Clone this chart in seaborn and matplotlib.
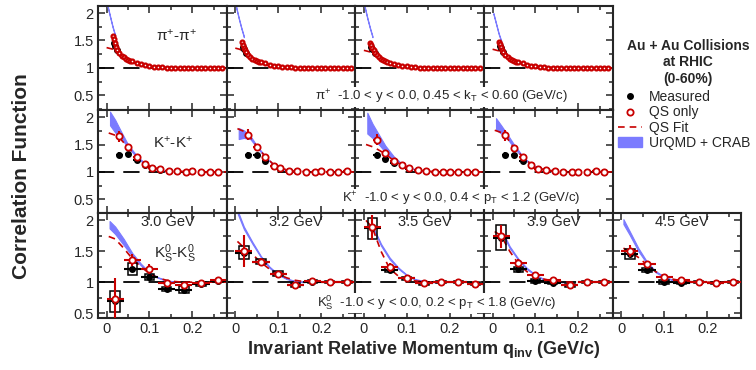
import matplotlib
matplotlib.use("Agg")
import matplotlib.pyplot as plt
from matplotlib.lines import Line2D
from matplotlib.patches import Patch, Rectangle
from matplotlib.ticker import MultipleLocator, FuncFormatter
import seaborn as sns

sns.set_style("ticks")
plt.rcParams["font.family"] = ["Liberation Sans", "DejaVu Sans"]
plt.rcParams["mathtext.fontset"] = "custom"
plt.rcParams["mathtext.rm"] = "Liberation Sans"
plt.rcParams["mathtext.it"] = "Liberation Sans:italic"
plt.rcParams["mathtext.bf"] = "Liberation Sans:bold"
plt.rcParams["mathtext.default"] = "rm"

RED = "#c80000"
BLUE = "#7b7bff"

energies = ["3.0 GeV", "3.2 GeV", "3.5 GeV", "3.9 GeV", "4.5 GeV"]

# ---- pi+ pi+ (fila 1) ----
pi_q = [0.015, 0.0175, 0.02, 0.0225, 0.025, 0.03, 0.035, 0.04, 0.045, 0.05, 0.055,
        0.06, 0.07, 0.08, 0.09, 0.10, 0.11, 0.12, 0.13, 0.14, 0.15, 0.16, 0.17,
        0.18, 0.19, 0.20, 0.21, 0.22, 0.23, 0.24, 0.25, 0.26, 0.27]
pi_qs = [
    [1.58, 1.52, 1.45, 1.38, 1.33, 1.27, 1.22, 1.19, 1.17, 1.15, 1.13, 1.12, 1.09, 1.07, 1.05, 1.03,
     1.02, 1.01, 1.01, 1.0, 1.0, 1.0, 1.0, 1.0, 1.0, 1.0, 1.0, 1.0, 1.0, 1.0, 1.0, 1.0, 1.0],
    [1.47, 1.42, 1.37, 1.33, 1.29, 1.24, 1.20, 1.17, 1.15, 1.13, 1.11, 1.10, 1.08, 1.06, 1.04, 1.03,
     1.02, 1.01, 1.01, 1.0, 1.0, 1.0, 1.0, 1.0, 1.0, 1.0, 1.0, 1.0, 1.0, 1.0, 1.0, 1.0, 1.0],
    [1.46, 1.42, 1.37, 1.32, 1.28, 1.23, 1.19, 1.16, 1.14, 1.12, 1.10, 1.09, 1.07, 1.05, 1.04, 1.03,
     1.02, 1.01, 1.0, 1.0, 1.0, 1.0, 1.0, 1.0, 1.0, 1.0, 1.0, 1.0, 1.0, 1.0, 1.0, 1.0, 1.0],
    [1.48, 1.43, 1.38, 1.33, 1.29, 1.24, 1.20, 1.17, 1.15, 1.13, 1.11, 1.10, 1.08, 1.06, 1.04, 1.03,
     1.02, 1.01, 1.0, 1.0, 1.0, 1.0, 1.0, 1.0, 1.0, 1.0, 1.0, 1.0, 1.0, 1.0, 1.0, 1.0, 1.0],
]
pi_meas_q = [0.0175, 0.02, 0.025]
pi_meas = [[1.45, 1.40, 1.32], [1.38, 1.35, 1.28], [1.38, 1.35, 1.28], [1.40, 1.36, 1.29]]
pi_meas_err = [0.08, 0.06, 0.04]
pi_fit_q = [0.0, 0.005, 0.01, 0.015, 0.02, 0.03, 0.04, 0.06, 0.08, 0.10, 0.15, 0.20, 0.28]
pi_fit = [
    [1.37, 1.36, 1.35, 1.34, 1.32, 1.26, 1.20, 1.12, 1.07, 1.03, 1.0, 1.0, 1.0],
    [1.36, 1.35, 1.34, 1.32, 1.30, 1.24, 1.19, 1.11, 1.06, 1.03, 1.0, 1.0, 1.0],
    [1.32, 1.31, 1.30, 1.29, 1.27, 1.22, 1.17, 1.10, 1.06, 1.03, 1.0, 1.0, 1.0],
    [1.34, 1.33, 1.32, 1.31, 1.29, 1.23, 1.18, 1.10, 1.06, 1.03, 1.0, 1.0, 1.0],
]
pi_band_q = [0.002, 0.008, 0.014, 0.02]
pi_band_hi = [[2.15, 1.95, 1.76, 1.60], [2.12, 1.92, 1.74, 1.58], [2.12, 1.92, 1.74, 1.58], [2.00, 1.82, 1.64, 1.50]]
pi_band_lo = [[2.13, 1.93, 1.74, 1.58], [2.10, 1.90, 1.72, 1.56], [2.10, 1.90, 1.72, 1.56], [1.98, 1.80, 1.62, 1.48]]

# ---- K+ K+ (fila 2) ----
k_q = [0.03, 0.05, 0.07, 0.09, 0.105, 0.125, 0.145, 0.165, 0.185, 0.20, 0.22, 0.24, 0.26]
k_qs = [
    [1.65, 1.46, 1.28, 1.14, 1.08, 1.05, 1.01, 1.02, 1.0, 1.01, 0.99, 0.99, 1.0],
    [1.68, 1.46, 1.28, 1.10, 1.07, 1.02, 1.01, 1.0, 1.0, 1.01, 1.0, 1.0, 1.01],
    [1.59, 1.35, 1.20, 1.13, 1.07, 1.04, 1.02, 1.0, 1.0, 1.0, 1.0, 1.0, 1.0],
    [1.67, 1.43, 1.28, 1.13, 1.05, 1.03, 1.01, 1.0, 1.0, 1.0, 1.0, 1.01, 1.0],
]
k_qs_err = [0.10, 0.04, 0.03, 0.02, 0.02, 0.02, 0.02, 0.02, 0.02, 0.02, 0.02, 0.02, 0.02]
k_meas = [
    [1.31, 1.32, 1.21, 1.12, 1.07, 1.04, 1.01, 1.02, 1.0, 1.01, 0.99, 0.99, 1.0],
    [1.31, 1.31, 1.20, 1.10, 1.06, 1.02, 1.01, 1.0, 1.0, 1.01, 1.0, 1.0, 1.01],
    [1.31, 1.23, 1.17, 1.12, 1.06, 1.03, 1.02, 1.0, 1.0, 1.0, 1.0, 1.0, 1.0],
    [1.31, 1.31, 1.20, 1.12, 1.05, 1.03, 1.01, 1.0, 1.0, 1.0, 1.0, 1.01, 1.0],
]
k_meas_err = [0.06, 0.03, 0.03, 0.02, 0.02, 0.02, 0.02, 0.02, 0.02, 0.02, 0.02, 0.02, 0.02]
k_fit_q = [0.005, 0.02, 0.03, 0.05, 0.07, 0.09, 0.11, 0.13, 0.15, 0.20, 0.28]
k_fit = [
    [1.71, 1.67, 1.62, 1.45, 1.28, 1.15, 1.08, 1.04, 1.02, 1.0, 1.0],
    [1.79, 1.74, 1.68, 1.47, 1.28, 1.13, 1.06, 1.02, 1.01, 1.0, 1.0],
    [1.50, 1.46, 1.42, 1.33, 1.20, 1.12, 1.06, 1.03, 1.01, 1.0, 1.0],
    [1.76, 1.72, 1.66, 1.44, 1.28, 1.14, 1.06, 1.03, 1.01, 1.0, 1.0],
]
k_band_q = [0.008, 0.02, 0.035, 0.05, 0.07, 0.09, 0.11, 0.13, 0.15]
k_band_hi = [
    [2.10, 1.95, 1.72, 1.50, 1.30, 1.15, 1.07, 1.03, 1.01],
    [1.80, 1.76, 1.66, 1.48, 1.29, 1.13, 1.06, 1.02, 1.01],
    [2.08, 1.88, 1.68, 1.48, 1.28, 1.14, 1.07, 1.03, 1.01],
    [1.98, 1.85, 1.68, 1.50, 1.29, 1.14, 1.07, 1.03, 1.01],
]
k_band_lo = [
    [1.85, 1.72, 1.60, 1.45, 1.27, 1.13, 1.06, 1.02, 1.0],
    [1.60, 1.62, 1.60, 1.45, 1.27, 1.12, 1.05, 1.01, 1.0],
    [1.70, 1.62, 1.50, 1.36, 1.22, 1.12, 1.06, 1.02, 1.0],
    [1.77, 1.70, 1.60, 1.44, 1.26, 1.13, 1.06, 1.02, 1.0],
]

# ---- K0s K0s (fila 3) ----
k0_q = [0.02, 0.06, 0.10, 0.14, 0.18, 0.22, 0.26]
k0_qs = [
    [0.72, 1.36, 1.21, 0.99, 0.96, 0.98, 1.03],
    [1.50, 1.33, 1.13, 0.96, 1.02, 1.0, 1.0],
    [1.89, 1.24, 1.07, 0.99, 1.0, 1.0, 0.97],
    [1.74, 1.31, 1.12, 1.04, 0.95, 1.0, 1.0],
    [1.50, 1.29, 1.09, 1.03, 1.0, 0.99, 1.0],
]
k0_qs_err = [
    [0.35, 0.10, 0.08, 0.04, 0.04, 0.03, 0.03],
    [0.26, 0.06, 0.05, 0.04, 0.02, 0.02, 0.02],
    [0.20, 0.07, 0.04, 0.03, 0.02, 0.02, 0.03],
    [0.18, 0.06, 0.04, 0.03, 0.03, 0.02, 0.02],
    [0.10, 0.05, 0.04, 0.03, 0.02, 0.02, 0.02],
]
k0_meas = [
    [0.69, 1.21, 1.09, 0.89, 0.88, 0.97, 1.02],
    [1.48, 1.33, 1.14, 0.96, 1.01, 1.0, 1.0],
    [1.87, 1.20, 1.06, 0.98, 1.0, 1.0, 0.97],
    [1.72, 1.21, 1.02, 0.99, 0.95, 1.0, 1.0],
    [1.45, 1.20, 1.0, 0.99, 1.0, 0.99, 1.0],
]
k0_meas_err = [0.04, 0.03, 0.03, 0.02, 0.02, 0.02, 0.02]
k0_sys = [
    [0.17, 0.10, 0.05, 0.04, 0.055, 0.03, 0.02],
    [0.10, 0.04, 0.04, 0.03, 0.02, 0.02, 0.02],
    [0.17, 0.04, 0.03, 0.03, 0.02, 0.02, 0.02],
    [0.20, 0.04, 0.03, 0.02, 0.02, 0.02, 0.02],
    [0.08, 0.03, 0.03, 0.02, 0.02, 0.02, 0.02],
]
k0_fit_q = [0.005, 0.02, 0.04, 0.06, 0.08, 0.10, 0.12, 0.14, 0.16, 0.18, 0.22, 0.28]
k0_fit = [
    [1.74, 1.70, 1.55, 1.38, 1.25, 1.14, 1.07, 1.03, 1.01, 1.0, 1.0, 1.0],
    [1.66, 1.56, 1.45, 1.32, 1.21, 1.13, 1.07, 1.03, 1.01, 1.0, 1.0, 1.0],
    [2.00, 1.88, 1.50, 1.22, 1.10, 1.05, 1.02, 1.01, 1.0, 1.0, 1.0, 1.0],
    [1.82, 1.75, 1.50, 1.30, 1.17, 1.10, 1.05, 1.02, 1.01, 1.0, 1.0, 1.0],
    [1.55, 1.50, 1.40, 1.28, 1.17, 1.10, 1.05, 1.02, 1.01, 1.0, 1.0, 1.0],
]
k0_band_q = [
    [0.007, 0.02, 0.04, 0.06, 0.08, 0.10, 0.12, 0.14, 0.16],
    [0.006, 0.02, 0.04, 0.06, 0.08, 0.10, 0.12, 0.14, 0.16],
    [0.026, 0.04, 0.06, 0.08, 0.10, 0.12, 0.14, 0.16, 0.18],
    [0.028, 0.04, 0.06, 0.08, 0.10, 0.12, 0.14, 0.16, 0.18],
    [0.005, 0.02, 0.04, 0.06, 0.08, 0.10, 0.12, 0.14, 0.16],
]
k0_band_hi = [
    [1.99, 1.90, 1.70, 1.47, 1.30, 1.16, 1.08, 1.03, 1.01],
    [2.15, 1.90, 1.65, 1.42, 1.25, 1.13, 1.06, 1.02, 1.01],
    [1.83, 1.62, 1.40, 1.24, 1.12, 1.05, 1.02, 1.01, 1.0],
    [1.75, 1.58, 1.38, 1.23, 1.12, 1.05, 1.02, 1.01, 1.0],
    [2.02, 1.82, 1.55, 1.33, 1.18, 1.09, 1.04, 1.01, 1.0],
]
k0_band_lo = [
    [1.87, 1.78, 1.60, 1.42, 1.27, 1.14, 1.07, 1.02, 1.0],
    [2.10, 1.86, 1.62, 1.40, 1.23, 1.12, 1.05, 1.01, 1.0],
    [1.80, 1.59, 1.37, 1.22, 1.11, 1.04, 1.01, 1.0, 1.0],
    [1.72, 1.55, 1.36, 1.21, 1.11, 1.04, 1.01, 1.0, 1.0],
    [1.94, 1.76, 1.50, 1.30, 1.16, 1.08, 1.03, 1.01, 1.0],
]

# ---- figura ----
W, H = 756, 370
fig = plt.figure(figsize=(W / 100, H / 100), dpi=100)
col_x = [98, 226.7, 355.3, 484, 612.7]
col_w = 128.7
rows_px = [(6, 110), (110, 213), (213, 318)]
ylims = [(0.23, 2.13), (0.25, 2.13), (0.42, 2.12)]


def make_ax(r, c):
    top, bot = rows_px[r]
    ax = fig.add_axes([col_x[c] / W, 1 - bot / H, col_w / W, (bot - top) / H])
    ax.set_xlim(-0.02, 0.28)
    ax.set_ylim(*ylims[r])
    ax.xaxis.set_major_locator(MultipleLocator(0.1))
    ax.xaxis.set_minor_locator(MultipleLocator(0.05))
    ax.yaxis.set_major_locator(MultipleLocator(0.5))
    ax.yaxis.set_minor_locator(MultipleLocator(0.25))
    ax.yaxis.set_major_formatter(FuncFormatter(lambda v, p: f"{v:g}"))
    ax.xaxis.set_major_formatter(FuncFormatter(lambda v, p: f"{v:g}"))
    ax.tick_params(which="both", direction="in", top=True, right=True, width=1.1,
                   labelsize=10.5, pad=3)
    ax.tick_params(which="major", length=5)
    ax.tick_params(which="minor", length=3)
    ax.tick_params(labelbottom=(r == 2), labelleft=(c == 0))
    for s in ax.spines.values():
        s.set_linewidth(1.5)
    ax.axhline(1.0, color="k", lw=1.3, dashes=(9, 5), zorder=1.5)
    return ax


def draw(ax, bq, bhi, blo, fq, fv, mq, mv, me, mxe, rq, rv, re, rxe,
         ms_red=4.5, mew_red=1.3, ms_blk=4):
    ax.fill_between(bq, blo, bhi, color=BLUE, lw=0.8, edgecolor=BLUE, zorder=1)
    sns.lineplot(x=fq, y=fv, ax=ax, color=RED, lw=1.2, linestyle=(0, (4, 3)),
                 zorder=2, sort=False)
    ax.errorbar(mq, mv, yerr=me, xerr=mxe, fmt="o", ms=ms_blk, color="k",
                elinewidth=1.5, capsize=0, zorder=3)
    ax.errorbar(rq, rv, yerr=re, xerr=rxe, fmt="o", ms=ms_red, mfc="white", mec=RED,
                mew=mew_red, ecolor=RED, elinewidth=1.5, capsize=0, zorder=4)


# fila 1: piones
for c in range(4):
    ax = make_ax(0, c)
    draw(ax, pi_band_q, pi_band_hi[c], pi_band_lo[c], pi_fit_q, pi_fit[c],
         pi_meas_q, pi_meas[c], pi_meas_err, 0.0, pi_q, pi_qs[c], 0.012, 0.005,
         ms_red=2.8, mew_red=1.6)
    if c == 0:
        ax.text(0.61, 0.72, r"π$^{+}$-π$^{+}$", transform=ax.transAxes,
                ha="center", va="center", fontsize=11)

# fila 2: kaones cargados
for c in range(4):
    ax = make_ax(1, c)
    draw(ax, k_band_q, k_band_hi[c], k_band_lo[c], k_fit_q, k_fit[c],
         k_q, k_meas[c], k_meas_err, 0.008, k_q, k_qs[c], k_qs_err, 0.008)
    if c == 0:
        ax.text(0.58, 0.68, r"K$^{+}$-K$^{+}$", transform=ax.transAxes,
                ha="center", va="center", fontsize=11)

# fila 3: kaones neutros
for c in range(5):
    ax = make_ax(2, c)
    for q, v, s in zip(k0_q, k0_meas[c], k0_sys[c]):
        ax.add_patch(Rectangle((q - 0.011, v - s), 0.022, 2 * s, fill=False,
                               ec="k", lw=1.1, zorder=2.5))
    draw(ax, k0_band_q[c], k0_band_hi[c], k0_band_lo[c], k0_fit_q, k0_fit[c],
         k0_q, k0_meas[c], k0_meas_err, 0.02, k0_q, k0_qs[c], k0_qs_err[c], 0.02)
    ax.text(0.54, 0.915, energies[c], transform=ax.transAxes, ha="center",
            va="center", fontsize=10.5)
    if c == 0:
        ax.text(0.6, 0.61, r"K$^0_S$-K$^0_S$", transform=ax.transAxes,
                ha="center", va="center", fontsize=11)

# textos de cinemática (fondo blanco tapa los bordes de los paneles)
box = dict(facecolor="white", edgecolor="none", pad=0.6)
fig.text(315 / W, 1 - 97 / H, r"π$^{+}$  -1.0 < y < 0.0, 0.45 < k$_T$ < 0.60 (GeV/c)",
         ha="left", va="center", fontsize=9.5, bbox=box, zorder=10)
fig.text(342 / W, 1 - 199 / H, r"K$^{+}$  -1.0 < y < 0.0, 0.4 < p$_T$ < 1.2 (GeV/c)",
         ha="left", va="center", fontsize=9.5, bbox=box, zorder=10)
fig.text(317 / W, 1 - 303 / H, r"K$^0_S$  -1.0 < y < 0.0, 0.2 < p$_T$ < 1.8 (GeV/c)",
         ha="left", va="center", fontsize=9.5, bbox=box, zorder=10)

# etiquetas de ejes
fig.text(22 / W, 1 - 176 / H, "Correlation Function", rotation=90, ha="center",
         va="center", fontsize=15, fontweight="bold")
fig.text(424 / W, 1 - 349 / H, r"Invariant Relative Momentum q$_{\mathbf{inv}}$ (GeV/c)",
         ha="center", va="center", fontsize=13, fontweight="bold")

# leyenda
fig.text(688 / W, 1 - 46 / H, "Au + Au Collisions", ha="center", va="center",
         fontsize=10, fontweight="bold")
fig.text(688 / W, 1 - 62 / H, "at RHIC", ha="center", va="center",
         fontsize=10, fontweight="bold")
fig.text(688 / W, 1 - 79 / H, "(0-60%)", ha="center", va="center",
         fontsize=10, fontweight="bold")
handles = [
    Line2D([], [], marker="o", color="k", ls="none", ms=4),
    Line2D([], [], marker="o", mfc="white", mec=RED, mew=1.3, ls="none", ms=4.5),
    Line2D([], [], color=RED, lw=1.2, ls=(0, (4, 3))),
    Patch(facecolor=BLUE, edgecolor=BLUE),
]
labels = ["Measured", "QS only", "QS Fit", "UrQMD + CRAB"]
fig.legend(handles, labels, loc="upper left", bbox_to_anchor=(618 / W, 1 - 90 / H),
           frameon=False, fontsize=10, handlelength=1.7, handletextpad=0.5,
           labelspacing=0.1, borderaxespad=0, borderpad=0)

fig.savefig("out.png", dpi=100)
